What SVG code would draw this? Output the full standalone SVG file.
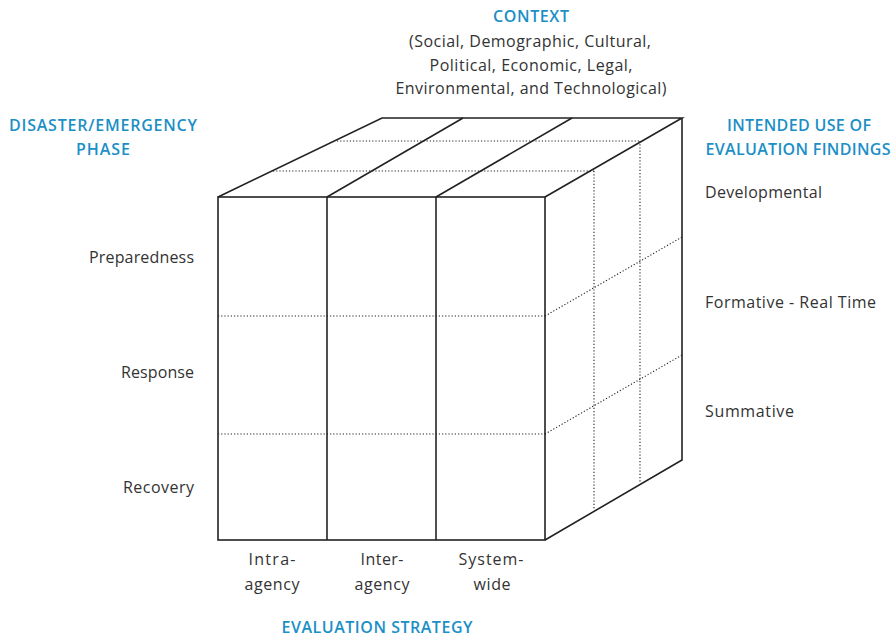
<svg xmlns="http://www.w3.org/2000/svg" width="895" height="638" viewBox="0 0 895 638">
<style>
.h{font-family:"Open Sans","Liberation Sans",sans-serif;font-weight:600;font-size:16px;fill:#1b8fc6;text-anchor:middle}
.t{font-family:"Open Sans","Liberation Sans",sans-serif;font-size:16px;fill:#333}
.m{text-anchor:middle}
.r{text-anchor:end}
.e{fill:none;stroke:#222;stroke-width:1.6;stroke-linejoin:miter}
.d{fill:none;stroke:#222;stroke-width:1.1;stroke-dasharray:1.2 2}
</style>
<rect width="895" height="638" fill="#fff"/>
<g id="connectors">
<g id="hidden-lines">
<line class="d" x1="218" y1="316" x2="545" y2="316"/>
<line class="d" x1="218" y1="434" x2="545" y2="434"/>
<line class="d" x1="545" y1="316" x2="682" y2="237"/>
<line class="d" x1="545" y1="434" x2="682" y2="355"/>
<line class="d" x1="273" y1="171" x2="594" y2="171"/>
<line class="d" x1="337" y1="141" x2="640" y2="141"/>
<line class="d" x1="594" y1="171" x2="594" y2="510"/>
<line class="d" x1="640" y1="141" x2="640" y2="483"/>
</g>
<g id="cube-edges">
<rect class="e" x="218" y="197" width="327" height="343"/>
<line class="e" x1="327" y1="197" x2="327" y2="540"/>
<line class="e" x1="436" y1="197" x2="436" y2="540"/>
<polyline class="e" points="218,197 382,118 682,118 545,197"/>
<line class="e" x1="327" y1="197" x2="463" y2="118"/>
<line class="e" x1="436" y1="197" x2="572" y2="118"/>
<polyline class="e" points="682,118 682,460 545,540"/>
</g>
</g>
<g id="context">
<text class="h" x="531" y="22" textLength="76">CONTEXT</text>
<text class="t m" x="530" y="47" textLength="242">(Social, Demographic, Cultural,</text>
<text class="t m" x="531" y="71" textLength="203">Political, Economic, Legal,</text>
<text class="t m" x="531" y="94" textLength="271">Environmental, and Technological)</text>
</g>
<g id="phase">
<text class="h" x="103" y="131" textLength="188">DISASTER/EMERGENCY</text>
<text class="h" x="103" y="155" textLength="54">PHASE</text>
<text class="t r" x="194" y="263" textLength="105">Preparedness</text>
<text class="t r" x="194" y="378" textLength="73">Response</text>
<text class="t r" x="194" y="493" textLength="71">Recovery</text>
</g>
<g id="intended-use">
<text class="h" x="799" y="131" textLength="144">INTENDED USE OF</text>
<text class="h" x="798" y="155" textLength="185">EVALUATION FINDINGS</text>
<text class="t" x="705" y="198" textLength="117">Developmental</text>
<text class="t" x="705" y="308" textLength="171">Formative - Real Time</text>
<text class="t" x="705" y="417" textLength="89">Summative</text>
</g>
<g id="strategy">
<text class="t m" x="272" y="565" textLength="47">Intra-</text>
<text class="t m" x="272" y="590" textLength="55">agency</text>
<text class="t m" x="382" y="565" textLength="43">Inter-</text>
<text class="t m" x="382" y="590" textLength="55">agency</text>
<text class="t m" x="491" y="565" textLength="65">System-</text>
<text class="t m" x="492" y="590" textLength="37">wide</text>
<text class="h" x="377" y="633" textLength="191">EVALUATION STRATEGY</text>
</g>
</svg>
